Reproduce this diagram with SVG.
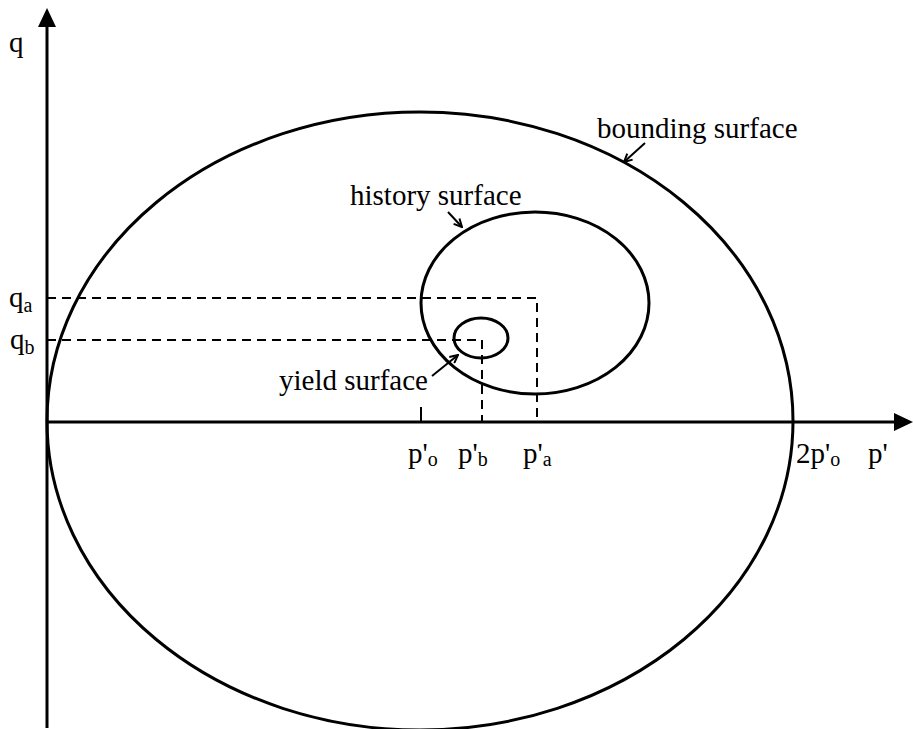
<svg xmlns="http://www.w3.org/2000/svg" width="913" height="729" viewBox="0 0 913 729">
<style>
.ln{fill:none;stroke:#000;stroke-width:3}
.dash{fill:none;stroke:#000;stroke-width:2;stroke-dasharray:9,6}
.thin{fill:none;stroke:#000;stroke-width:2}
text{font-family:"Liberation Serif","Times New Roman",serif;font-size:29px;fill:#000}
.sub{font-size:20px}
</style>
<defs>
<marker id="ah" markerWidth="10" markerHeight="10" refX="9" refY="5" orient="auto" markerUnits="userSpaceOnUse">
<path d="M1,1 L9,5 L1,9" fill="none" stroke="#000" stroke-width="2"/>
</marker>
</defs>
<rect width="913" height="729" fill="#fff"/>
<g id="axes">
<line class="ln" x1="47" y1="728" x2="47" y2="24"/>
<polygon points="47,8 38,27 56,27" fill="#000"/>
<line class="ln" x1="47" y1="422" x2="898" y2="422"/>
<polygon points="913,422 894,413 894,431" fill="#000"/>
<text x="9" y="52">q</text>
<text x="868" y="463">p'</text>
</g>
<g id="bounding-surface">
<ellipse class="ln" cx="420" cy="421" rx="373" ry="309"/>
<text x="597" y="138">bounding surface</text>
</g>
<g id="history-surface">
<ellipse class="ln" cx="535" cy="303" rx="114" ry="91"/>
<text x="350" y="205">history surface</text>
</g>
<g id="yield-surface">
<ellipse class="ln" cx="481" cy="338" rx="27" ry="20"/>
<text x="279" y="390">yield surface</text>
</g>
<g id="guides">
<polyline class="dash" points="47,298 537,298 537,422"/>
<polyline class="dash" points="47,340 482,340 482,422"/>
<line class="thin" x1="421" y1="407" x2="421" y2="422"/>
</g>
<g id="labels">
<text x="9" y="307">q<tspan class="sub" dy="5">a</tspan></text>
<text x="10" y="349">q<tspan class="sub" dy="5">b</tspan></text>
<text x="408" y="463">p'<tspan class="sub" dy="3">o</tspan></text>
<text x="458" y="463">p'<tspan class="sub" dy="3">b</tspan></text>
<text x="523" y="463">p'<tspan class="sub" dy="3">a</tspan></text>
<text x="796" y="463">2p'<tspan class="sub" dy="3">o</tspan></text>
</g>
<g id="connectors">
<line class="thin" x1="645" y1="143" x2="624" y2="162" marker-end="url(#ah)"/>
<line class="thin" x1="448" y1="212" x2="462" y2="227" marker-end="url(#ah)"/>
<line class="thin" x1="432" y1="376" x2="458" y2="355" marker-end="url(#ah)"/>
</g>
</svg>
